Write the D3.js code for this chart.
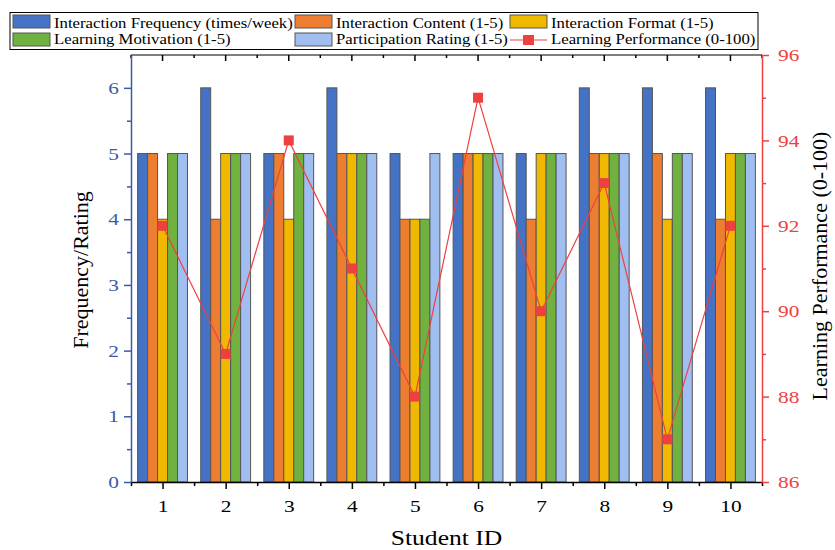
<!DOCTYPE html>
<html><head><meta charset="utf-8">
<script src="https://cdn.jsdelivr.net/npm/d3@7"></script>
<style>body{margin:0;background:#fff}svg{display:block}svg text{font-family:"Liberation Serif","Times New Roman",serif !important}</style>
</head><body><svg id="c" width="835" height="550"></svg>
<script>
const students = [1,2,3,4,5,6,7,8,9,10];
const frequency = [5,6,5,6,5,5,5,6,6,6];
const content = [5,4,5,5,4,5,4,5,5,4];
const format = [4,5,4,5,4,5,5,5,4,5];
const motivation = [5,5,5,5,4,5,5,5,5,5];
const participation = [5,5,5,5,5,5,5,5,5,5];
const performance = [92,89,94,91,88,95,90,93,87,92];
const seriesNames = ["Interaction Frequency (times/week)","Interaction Content (1-5)","Interaction Format (1-5)","Learning Motivation (1-5)","Participation Rating (1-5)"];
const lineName = "Learning Performance (0-100)";
const leftTicks = [0,1,2,3,4,5,6];
const rightTicks = [86,88,90,92,94,96];
const colors = ["#4472C4","#ED7D31","#F0B800","#70B140","#A0BFF0"];
const red = "#EF4040";
const SERIF = "Liberation Serif";
const SX = 1.22; // horizontal glyph stretch seen in the reference

const svg = d3.select("#c");
const L=131,R=762,T=55,B=482;
const x = d3.scaleLinear().domain([0.5,10.5]).range([L,R]);
const y = d3.scaleLinear().domain([0,6.5]).range([B,T]);
const y2 = d3.scaleLinear().domain([86,96]).range([B,T]);
const series=[frequency,content,format,motivation,participation];
const groupW = 0.79, bw = groupW/5;

series.forEach((s,si)=>{
  svg.append("g").selectAll("rect").data(s).join("rect")
    .attr("x",(d,i)=>x(students[i]-groupW/2+si*bw))
    .attr("width",x(bw)-x(0))
    .attr("y",d=>y(d)).attr("height",d=>B-y(d))
    .attr("fill",colors[si]).attr("stroke","#555").attr("stroke-width",1);
});

svg.append("line").attr("x1",L).attr("x2",R).attr("y1",T).attr("y2",T).attr("stroke","#000").attr("stroke-width",1.2);
const majors=students, minors=d3.range(0.5,11,1);
svg.append("g").selectAll("line").data(majors).join("line").attr("x1",d=>x(d)).attr("x2",d=>x(d)).attr("y1",T).attr("y2",T+6).attr("stroke","#000").attr("stroke-width",1.5);
svg.append("g").selectAll("line").data(minors).join("line").attr("x1",d=>x(d)).attr("x2",d=>x(d)).attr("y1",T).attr("y2",T+3).attr("stroke","#000").attr("stroke-width",1.5);

const FS = 17.5;
// bottom axis
const gx = svg.append("g").attr("transform",`translate(0,${B})`);
gx.call(d3.axisBottom(x).tickValues(minors).tickSize(4).tickFormat(""));
gx.select(".domain").remove();
const gx2 = svg.append("g").attr("transform",`translate(0,${B})`);
gx2.call(d3.axisBottom(x).tickValues(majors).tickSize(7).tickSizeOuter(0).tickFormat(d3.format("d")));
[gx,gx2].forEach(g=>{g.attr("font-family",SERIF);g.selectAll("line").attr("stroke","#000").attr("stroke-width",1.5);g.select(".domain").attr("stroke","#000").attr("stroke-width",1.5);});
gx2.selectAll("text").attr("font-size",FS).attr("fill","#000").attr("y",30).attr("dy",0).attr("transform",`scale(${SX},1)`);

// left axis
const blue="#3A5BA8";
const gl = svg.append("g").attr("transform",`translate(${L},0)`);
gl.call(d3.axisLeft(y).tickValues(d3.range(0.5,6.5,1)).tickSize(4).tickFormat(""));
gl.select(".domain").remove();
const gl2 = svg.append("g").attr("transform",`translate(${L},0)`);
gl2.call(d3.axisLeft(y).tickValues(leftTicks).tickSize(7).tickSizeOuter(0).tickFormat(d3.format("d")));
[gl,gl2].forEach(g=>{g.attr("font-family",SERIF);g.selectAll("line").attr("stroke",blue).attr("stroke-width",1.5);g.select(".domain").attr("stroke",blue).attr("stroke-width",1.5);});
gl2.selectAll("text").attr("font-size",FS).attr("fill",blue).attr("x",-12/SX).attr("transform",`scale(${SX},1)`);

// right axis
const gr = svg.append("g").attr("transform",`translate(${R},0)`);
gr.call(d3.axisRight(y2).tickValues(d3.range(87,96,2)).tickSize(4).tickFormat(""));
gr.select(".domain").remove();
const gr2 = svg.append("g").attr("transform",`translate(${R},0)`);
gr2.call(d3.axisRight(y2).tickValues(rightTicks).tickSize(7).tickSizeOuter(0).tickFormat(d3.format("d")));
[gr,gr2].forEach(g=>{g.attr("font-family",SERIF);g.selectAll("line").attr("stroke",red).attr("stroke-width",1.5);g.select(".domain").attr("stroke",red).attr("stroke-width",1.5);});
gr2.selectAll("text").attr("font-size",FS).attr("fill",red).attr("x",16/SX).attr("transform",`scale(${SX},1)`);

// line
svg.append("path").datum(performance)
  .attr("d",d3.line().x((d,i)=>x(students[i])).y(d=>y2(d)))
  .attr("fill","none").attr("stroke",red).attr("stroke-width",1.2);
svg.append("g").selectAll("rect").data(performance).join("rect")
  .attr("x",(d,i)=>x(students[i])-5).attr("y",d=>y2(d)-5).attr("width",10).attr("height",10).attr("fill",red);

// axis titles
svg.append("text").attr("transform",`translate(${(L+R)/2},545) scale(${SX},1)`).attr("text-anchor","middle").attr("font-size",21).attr("font-family",SERIF).text("Student ID");
svg.append("text").attr("transform",`translate(88,270) rotate(-90)`).attr("text-anchor","middle").attr("font-size",22).attr("font-family",SERIF).text("Frequency/Rating");
svg.append("text").attr("transform",`translate(827,266) rotate(-90)`).attr("text-anchor","middle").attr("font-size",22).attr("font-family",SERIF).text("Learning Performance (0-100)");

// legend
const lg = svg.append("g").attr("font-family",SERIF);
lg.append("rect").attr("x",10).attr("y",12.5).attr("width",748).attr("height",37).attr("fill","#fff").attr("stroke","#000").attr("stroke-width",1);
const items = seriesNames.map((n,i)=>({n,c:colors[i],t:"bar"})).concat([{n:lineName,c:red,t:"line"}]);
const colX=[13,295,510], rowTop=[15,33], rowBase=[28,44];
items.forEach((it,i)=>{
  const cx=colX[i%3], r=Math.floor(i/3), top=rowTop[r];
  if(it.t==="bar"){
    lg.append("rect").attr("x",cx).attr("y",top).attr("width",37).attr("height",13).attr("fill",it.c).attr("stroke","#555");
  } else {
    lg.append("line").attr("x1",cx).attr("x2",cx+37).attr("y1",top+7).attr("y2",top+7).attr("stroke",red).attr("stroke-width",1.2);
    lg.append("rect").attr("x",cx+13).attr("y",top+2).attr("width",11).attr("height",10).attr("fill",red);
  }
  lg.append("text").attr("transform",`translate(${cx+41},${rowBase[r]}) scale(1.08,1)`).attr("font-size",15.5).attr("fill","#000").text(it.n);
});
</script></body></html>
